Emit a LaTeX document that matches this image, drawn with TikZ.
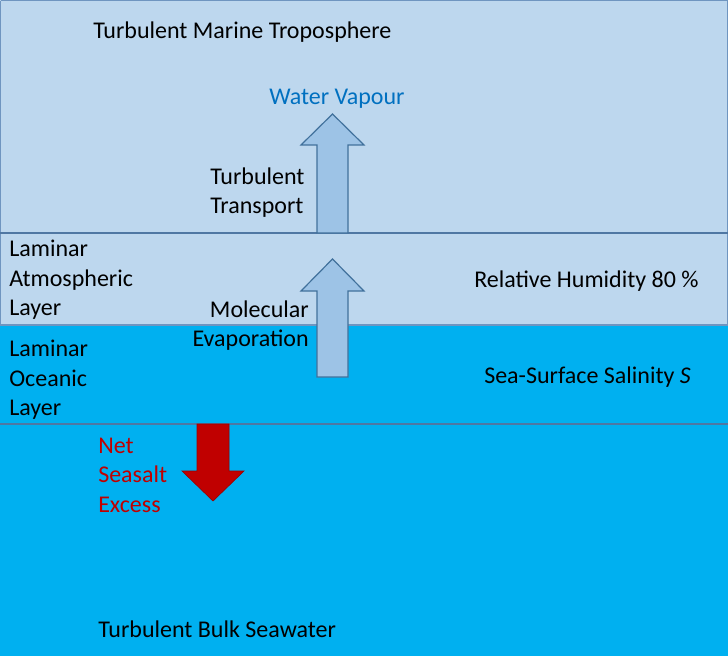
\documentclass[tikz,border=0pt]{standalone}
\usepackage{fontspec}
\setmainfont{Carlito}
\definecolor{airblue}{HTML}{BDD7EE}
\definecolor{seablue}{HTML}{00B0F0}
\definecolor{edgeblue}{HTML}{6F95C0}
\definecolor{lineblue}{HTML}{4F77A3}
\definecolor{arrowfill}{HTML}{9DC3E6}
\definecolor{arrowedge}{HTML}{41719C}
\definecolor{netred}{HTML}{C00000}
\definecolor{vapour}{HTML}{0070C0}
\tikzset{
  lbl/.style={inner sep=0pt, anchor=west, align=left, font=\fontsize{18}{22.1}\selectfont},
  rlbl/.style={inner sep=0pt, anchor=east, align=right, font=\fontsize{18}{22.1}\selectfont},
  layerbox/.style={line width=0.9pt},
  uparrow/.style={fill=arrowfill, draw=arrowedge, line width=0.9pt, line join=miter},
  downarrow/.style={fill=netred, draw=netred!80!black, line width=0.5pt, line join=miter}
}
\begin{document}
\begin{tikzpicture}[x=0.75pt,y=-0.75pt]
\useasboundingbox (0,0) rectangle (728,656);
% layers
\fill[airblue] (0,0) rectangle (728,325);
\fill[seablue] (0,325) rectangle (728,656);
\draw[edgeblue, layerbox] (0.5,0.7) -- (727.3,0.7) -- (727.3,325);
\draw[edgeblue, layerbox] (0.5,0.7) -- (0.5,325);
\draw[lineblue, layerbox] (0,233) -- (728,233);
\draw[edgeblue, layerbox] (0,325) -- (728,325);
\draw[lineblue, layerbox] (0,424) -- (728,424);
% arrows
\draw[uparrow] (317,233) -- (317,145) -- (301,145) -- (332.5,114) -- (364,145) -- (348,145) -- (348,233) -- cycle;
\draw[uparrow] (317,377) -- (317,291) -- (301,291) -- (332.5,259) -- (364,291) -- (348,291) -- (348,377) -- cycle;
\draw[downarrow] (197,424) -- (197,471) -- (182,471) -- (213,501) -- (244,471) -- (229,471) -- (229,424) -- cycle;
% labels
\node[lbl] (trop) at (93,32) {Turbulent Marine Troposphere};
\node[lbl, text=vapour] (wv) at (269,99) {Water Vapour};
\node[lbl] (tt) at (210,192.5) {Turbulent\\Transport};
\node[lbl] (lal) at (9,280) {Laminar\\Atmospheric\\Layer};
\node[rlbl] (me) at (309,325.5) {Molecular\\Evaporation};
\node[lbl] (rh) at (474,281) {Relative Humidity 80 \%};
\node[lbl] (lol) at (9,380) {Laminar\\Oceanic\\Layer};
\node[lbl] (sss) at (484,377) {Sea-Surface Salinity \textit{S}};
\node[lbl, text=netred] (nse) at (98,475) {Net\\Seasalt\\Excess};
\node[lbl] (tbs) at (98,629) {Turbulent Bulk Seawater};
\end{tikzpicture}
\end{document}
